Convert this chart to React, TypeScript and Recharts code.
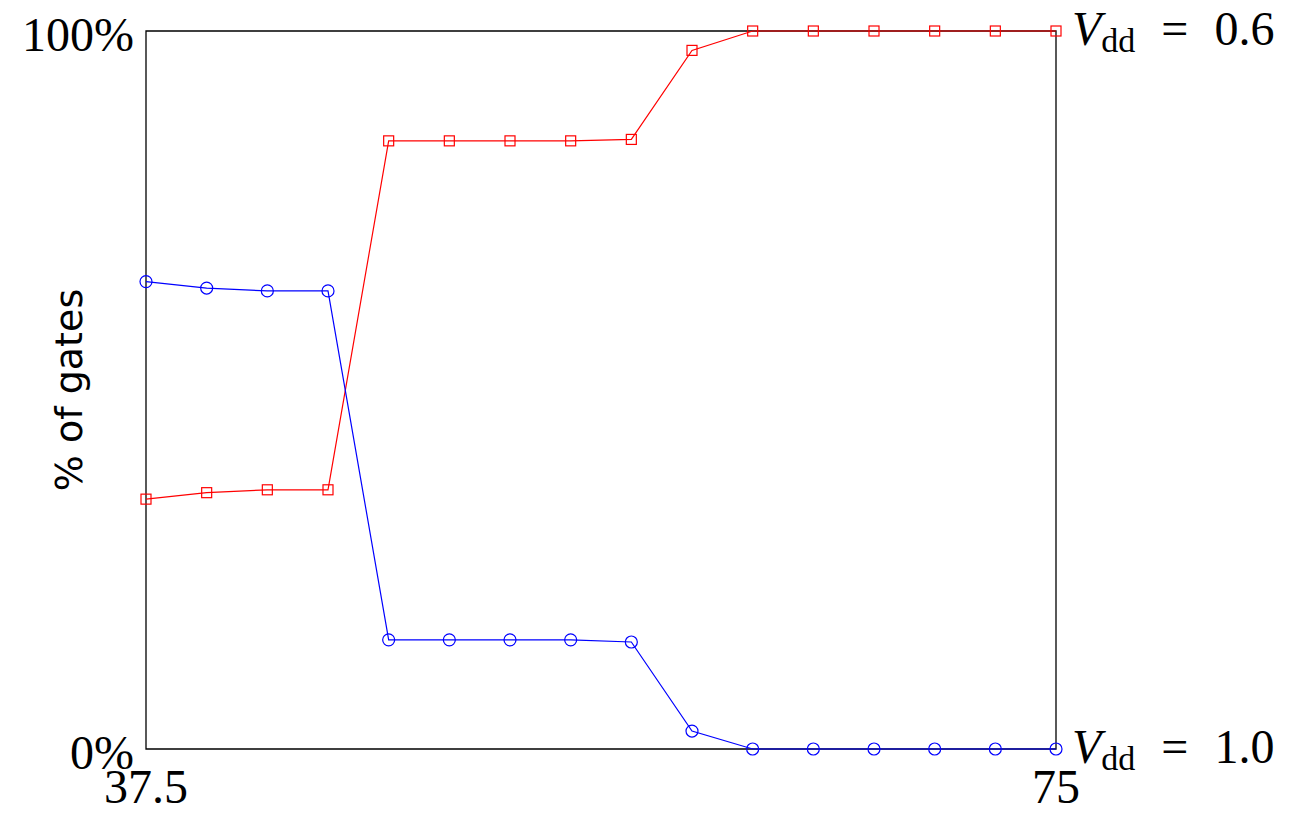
import React from 'react';
import {
  LineChart,
  Line,
  XAxis,
  YAxis,
  ReferenceArea
} from 'recharts';

const vth = [37.5, 40, 42.5, 45, 47.5, 50, 52.5, 55, 57.5, 60, 62.5, 65, 67.5, 70, 72.5, 75];
const vdd06 = [34.8, 35.7, 36.1, 36.1, 84.7, 84.7, 84.7, 84.7, 84.9, 97.3, 100, 100, 100, 100, 100, 100];
const vdd10 = [65.1, 64.2, 63.8, 63.8, 15.2, 15.2, 15.2, 15.2, 14.9, 2.5, 0, 0, 0, 0, 0, 0];
const xTicks = [37.5, 75];
const yTicks = [0, 100];
const rightLabels: Record<number, string> = { 100: '0.6', 0: '1.0' };

const data = vth.map((x, i) => ({ x, low: vdd06[i], high: vdd10[i] }));

const serif = '"Liberation Serif", "DejaVu Serif", serif';

const Square = (props: any) => {
  const { cx, cy } = props;
  return <rect x={cx - 5} y={cy - 5} width={10} height={10} fill="none" stroke="#ff0000" strokeWidth={1.2} />;
};

const Circle = (props: any) => {
  const { cx, cy } = props;
  return <circle cx={cx} cy={cy} r={6} fill="none" stroke="#0000ff" strokeWidth={1.2} />;
};

// left tick draws the % label and the Vdd label at the right end of the same level
const LeftTick = (props: any) => {
  const { y, payload } = props;
  return (
    <g>
      <text x={134} y={y + 20} textAnchor="end" fontFamily={serif} fontSize={48} fill="#000">
        {payload.value}%
      </text>
      <text x={1072} y={y + 14} fontFamily={serif} fontSize={48} fill="#000">
        <tspan fontStyle="italic">V</tspan>
        <tspan fontSize={34} dy={7}>dd</tspan>
        <tspan dy={-7} dx={26}>=</tspan>
        <tspan dx={26}>{rightLabels[payload.value]}</tspan>
      </text>
    </g>
  );
};

const BottomTick = (props: any) => {
  const { x, payload } = props;
  return (
    <text x={x} y={803} textAnchor="middle" fontFamily={serif} fontSize={48} fill="#000">
      {payload.value}
    </text>
  );
};

const App = () => {
  return (
    <div style={{ position: 'absolute', left: 0, top: 0 }}>
      <LineChart
        width={1289}
        height={813}
        data={data}
        margin={{ top: 31, right: 233, bottom: 0, left: 0 }}
      >
        <XAxis
          dataKey="x"
          type="number"
          domain={[37.5, 75]}
          ticks={xTicks}
          height={64}
          axisLine={false}
          tickLine={false}
          tick={<BottomTick />}
        />
        <YAxis
          domain={[0, 100]}
          ticks={yTicks}
          width={146}
          axisLine={false}
          tickLine={false}
          tick={<LeftTick />}
          label={{
            value: '% of gates',
            angle: -90,
            position: 'insideLeft',
            dx: 64,
            style: { fontFamily: '"DejaVu Sans", sans-serif', fontSize: 38, fill: '#000', textAnchor: 'middle' }
          }}
        />
        <ReferenceArea
          x1={37.5}
          x2={75}
          y1={0}
          y2={100}
          fill="none"
          stroke="#000"
          strokeWidth={1.3}
          ifOverflow="visible"
        />
        <Line
          type="linear"
          dataKey="low"
          stroke="#ff0000"
          strokeWidth={1.2}
          dot={<Square />}
          isAnimationActive={false}
        />
        <Line
          type="linear"
          dataKey="high"
          stroke="#0000ff"
          strokeWidth={1.2}
          dot={<Circle />}
          isAnimationActive={false}
        />
      </LineChart>
    </div>
  );
};

export default App;
